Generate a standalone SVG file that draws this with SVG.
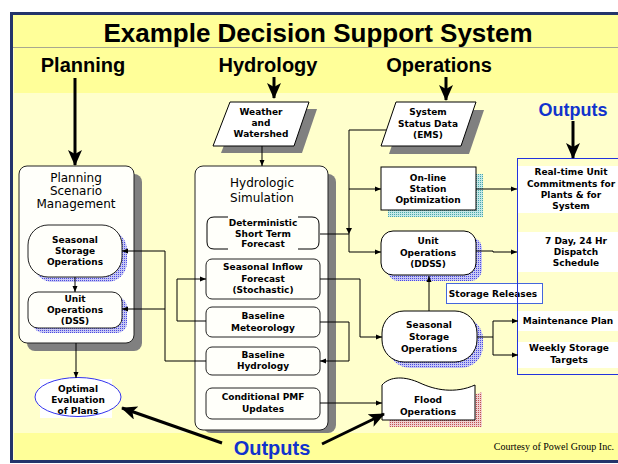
<svg xmlns="http://www.w3.org/2000/svg" width="618" height="464" viewBox="0 0 618 464">
<style>
.bx{fill:#FFFFFA;stroke:#222;stroke-width:1}
.wb{fill:#FFFFFF;stroke:#000;stroke-width:1}
.t{font-family:"DejaVu Sans",Verdana,sans-serif;font-size:9px;font-weight:bold;text-anchor:middle;fill:#000}
.h{font-family:"DejaVu Sans",Verdana,sans-serif;font-size:12px;text-anchor:middle;fill:#000}
.hd{font-family:"Liberation Sans",Arial,sans-serif;font-weight:bold;font-size:20px;text-anchor:middle;fill:#000}
.out{font-family:"Liberation Sans",Arial,sans-serif;font-weight:bold;text-anchor:middle;fill:#1133CC}
.c{fill:none;stroke:#000;stroke-width:1}
.big{fill:none;stroke:#000;stroke-width:3}
.sh{fill:#808080}
.wr{fill:#FFFFFF}
</style>
<defs>
<marker id="a" markerUnits="userSpaceOnUse" markerWidth="6" markerHeight="6" viewBox="0 0 6 6" refX="6" refY="3" orient="auto"><path d="M0,0.5 L6,3 L0,5.5 z" fill="#000"/></marker>
<marker id="A" markerUnits="userSpaceOnUse" markerWidth="16" markerHeight="14" viewBox="0 0 16 14" refX="15" refY="7" orient="auto"><path d="M0,0 L16,7 L0,14 L4,7 z" fill="#000"/></marker>
<pattern id="pb" width="2" height="2" patternUnits="userSpaceOnUse"><rect width="2" height="2" fill="#C8C8F4"/><rect width="1" height="1" fill="#4A4AE0"/></pattern>
<pattern id="pt" width="2" height="2" patternUnits="userSpaceOnUse"><rect width="2" height="2" fill="#C4E8E8"/><rect width="1" height="1" fill="#4AA8A8"/></pattern>
<pattern id="pr" width="2" height="2" patternUnits="userSpaceOnUse"><rect width="2" height="2" fill="#F0D0D0"/><rect width="1" height="1" fill="#C05050"/></pattern>
</defs>

<g id="background">
<rect x="0" y="0" width="618" height="464" fill="#FFFFFF"/>
<rect x="12" y="14" width="608" height="447" fill="#FFFFCC"/>
<rect x="12" y="14" width="608" height="33" fill="#FFFF99"/>
<rect x="14" y="48" width="606" height="45" fill="#FFFF99"/>
<rect x="14" y="433" width="606" height="28" fill="#FFFF99"/>
<line x1="12" y1="47.5" x2="618" y2="47.5" stroke="#A8A890" stroke-width="1"/>
<rect x="11.5" y="13.5" width="620" height="448" fill="none" stroke="#23346A" stroke-width="3"/>
</g>

<g id="headings">
<text x="318" y="42" font-family="Liberation Sans, Arial, sans-serif" font-weight="bold" font-size="26" text-anchor="middle">Example Decision Support System</text>
<text class="hd" x="83" y="72">Planning</text>
<text class="hd" x="268" y="72">Hydrology</text>
<text class="hd" x="439" y="72">Operations</text>
<text class="out" x="573" y="116" font-size="18">Outputs</text>
<text class="out" x="272" y="455" font-size="20">Outputs</text>
<text x="554" y="450" font-family="Liberation Serif, Times New Roman, serif" font-size="10" text-anchor="middle">Courtesy of Powel Group Inc.</text>
</g>

<g id="planning-scenario">
<rect class="sh" x="27" y="174" width="115" height="177" rx="8"/>
<rect class="bx" x="19" y="166" width="115" height="177" rx="8"/>
<text class="h" x="76" y="182">Planning</text>
<text class="h" x="76" y="195">Scenario</text>
<text class="h" x="76" y="208">Management</text>
</g>

<g id="plan-seasonal-storage">
<rect x="33" y="230" width="94" height="52" rx="20" fill="url(#pb)"/>
<rect class="bx" x="28" y="225" width="94" height="52" rx="20"/>
<text class="t" x="75" y="243">Seasonal</text>
<text class="t" x="75" y="254">Storage</text>
<text class="t" x="75" y="265">Operations</text>
</g>

<g id="plan-unit-ops">
<rect x="33" y="297" width="94" height="36" rx="10" fill="url(#pb)"/>
<rect class="bx" x="28" y="292" width="94" height="36" rx="10"/>
<text class="t" x="75" y="302">Unit</text>
<text class="t" x="75" y="313">Operations</text>
<text class="t" x="75" y="324">(DSS)</text>
</g>

<g id="optimal-evaluation">
<rect class="wr" x="40" y="379" width="72" height="39"/>
<ellipse cx="78" cy="397" rx="43" ry="19.5" fill="#FFFFFF" stroke="#3333EE" stroke-width="1"/>
<text class="t" x="78" y="392">Optimal</text>
<text class="t" x="78" y="403">Evaluation</text>
<text class="t" x="78" y="414">of Plans</text>
</g>

<g id="weather">
<polygon class="sh" points="238,109 317,109 302,153 221,153"/>
<polygon class="wb" points="230,102 309,102 294,146 213,146"/>
<text class="t" x="261" y="115">Weather</text>
<text class="t" x="261" y="126">and</text>
<text class="t" x="261" y="137">Watershed</text>
</g>

<g id="hydrologic-simulation">
<rect class="sh" x="203" y="174" width="133" height="259" rx="8"/>
<rect class="bx" x="195" y="166" width="133" height="264" rx="8"/>
<text class="h" x="262" y="187">Hydrologic</text>
<text class="h" x="262" y="202">Simulation</text>
</g>

<g id="deterministic">
<path class="c" d="M228,217 H214 Q207,217 207,224 V242 Q207,249 214,249 H228" stroke="#333"/>
<path class="c" d="M298,217 H312 Q319,217 319,224 V242 Q319,249 312,249 H298" stroke="#333"/>
<text class="t" x="263" y="226">Deterministic</text>
<text class="t" x="263" y="237">Short Term</text>
<text class="t" x="263" y="247" font-size="8.5">Forecast</text>
</g>

<g id="seasonal-inflow">
<rect class="bx" x="206" y="259" width="114" height="40" rx="6"/>
<text class="t" x="263" y="270">Seasonal Inflow</text>
<text class="t" x="263" y="282">Forecast</text>
<text class="t" x="263" y="293" font-size="8.5">(Stochastic)</text>
</g>

<g id="baseline-meteorology">
<rect class="bx" x="206" y="307" width="114" height="30" rx="6"/>
<text class="t" x="263" y="319">Baseline</text>
<text class="t" x="263" y="331">Meteorology</text>
</g>

<g id="baseline-hydrology">
<rect class="bx" x="206" y="347" width="114" height="28" rx="6"/>
<text class="t" x="263" y="358">Baseline</text>
<text class="t" x="263" y="369">Hydrology</text>
</g>

<g id="conditional-pmf">
<rect class="bx" x="206" y="388" width="114" height="31" rx="6"/>
<text class="t" x="263" y="400">Conditional PMF</text>
<text class="t" x="263" y="412">Updates</text>
</g>

<g id="system-status">
<polygon class="sh" points="404,110 484,110 469,154 389,154"/>
<polygon class="wb" points="396,102 476,102 461,146 381,146"/>
<text class="t" x="428" y="115">System</text>
<text class="t" x="428" y="127">Status Data</text>
<text class="t" x="428" y="138">(EMS)</text>
</g>

<g id="online-station">
<rect x="388" y="174" width="95" height="43" fill="url(#pt)"/>
<rect class="wb" x="381" y="167" width="95" height="43"/>
<text class="t" x="428" y="181">On-line</text>
<text class="t" x="428" y="192">Station</text>
<text class="t" x="428" y="203">Optimization</text>
</g>

<g id="unit-ops">
<rect x="387" y="237" width="95" height="44" rx="12" fill="url(#pb)"/>
<rect class="wb" x="381" y="231" width="95" height="44" rx="12"/>
<text class="t" x="428" y="244">Unit</text>
<text class="t" x="428" y="256">Operations</text>
<text class="t" x="428" y="267">(DDSS)</text>
</g>

<g id="seasonal-storage">
<rect x="388" y="317" width="95" height="51" rx="22" fill="url(#pb)"/>
<rect class="wb" x="382" y="311" width="95" height="51" rx="22"/>
<text class="t" x="429" y="328">Seasonal</text>
<text class="t" x="429" y="340">Storage</text>
<text class="t" x="429" y="352">Operations</text>
</g>

<g id="flood-ops">
<path d="M389,427 L389,392 C397,383 412,383 427,390 C442,397 462,401 482,392 L482,427 Z" fill="url(#pr)"/>
<path class="wb" d="M382,420 L382,385 C390,376 405,376 420,383 C435,390 455,394 475,385 L475,420 Z"/>
<text class="t" x="428" y="403">Flood</text>
<text class="t" x="428" y="415">Operations</text>
</g>

<g id="storage-releases">
<rect x="446.5" y="283.5" width="96" height="20" fill="#FFFFFF" stroke="#4466DD" stroke-width="1"/>
<text class="t" x="493" y="297" font-size="8.5">Storage Releases</text>
</g>

<g id="outputs-panel">
<rect class="wr" x="518" y="166" width="100" height="47"/>
<rect class="wr" x="518" y="232" width="100" height="40"/>
<rect class="wr" x="518" y="311" width="100" height="20"/>
<rect class="wr" x="518" y="342" width="100" height="26"/>
<rect x="517.5" y="158.5" width="110" height="216" fill="none" stroke="#2233DD" stroke-width="1"/>
<text class="t" x="571" y="175">Real-time Unit</text>
<text class="t" x="571" y="187">Commitments for</text>
<text class="t" x="571" y="198">Plants &amp; for</text>
<text class="t" x="571" y="209">System</text>
<text class="t" x="576" y="244">7 Day, 24 Hr</text>
<text class="t" x="576" y="255">Dispatch</text>
<text class="t" x="576" y="266">Schedule</text>
<text class="t" x="568" y="324">Maintenance Plan</text>
<text class="t" x="569" y="351">Weekly Storage</text>
<text class="t" x="569" y="363">Targets</text>
</g>

<g id="connectors">
<line class="big" x1="75" y1="78" x2="75" y2="165" marker-end="url(#A)"/>
<line class="big" x1="274" y1="77" x2="274" y2="98" marker-end="url(#A)"/>
<line class="big" x1="446" y1="77" x2="446" y2="100" marker-end="url(#A)"/>
<line class="big" x1="573" y1="121" x2="573" y2="158" marker-end="url(#A)"/>
<line class="big" x1="222" y1="443" x2="122" y2="408" marker-end="url(#A)"/>
<line class="big" x1="322" y1="444" x2="384" y2="414" marker-end="url(#A)"/>

<line class="c" x1="75" y1="277" x2="75" y2="292" marker-end="url(#a)"/>
<line class="c" x1="76" y1="343" x2="76" y2="378" marker-end="url(#a)"/>
<line class="c" x1="262" y1="146" x2="262" y2="166" marker-end="url(#a)"/>

<path class="c" d="M386,130 H349 V252 H381" marker-end="url(#a)"/>
<path class="c" d="M349,189 H381" marker-end="url(#a)"/>
<path class="c" d="M320,234 H349"/>
<path d="M346,228 L352,228 L349,234 z" fill="#000"/>
<path class="c" d="M476,189 H517" marker-end="url(#a)"/>
<path class="c" d="M476,251 H493 V252 H517" marker-end="url(#a)"/>
<path class="c" d="M429,311 V276" marker-end="url(#a)"/>
<path class="c" d="M477,337 H493 V321 H518" marker-end="url(#a)"/>
<path class="c" d="M493,337 V355 H518" marker-end="url(#a)"/>

<path class="c" d="M320,279 H360 V337 H382" marker-end="url(#a)"/>
<path class="c" d="M320,322 H349 V361 H320" marker-end="url(#a)"/>
<path class="c" d="M206,321 H177 V279 H206" marker-end="url(#a)"/>
<path class="c" d="M206,361 H165 V251 H122" marker-end="url(#a)"/>
<path class="c" d="M165,309 H122" marker-end="url(#a)"/>
<path class="c" d="M320,403 H382" marker-end="url(#a)"/>
</g>
</svg>
